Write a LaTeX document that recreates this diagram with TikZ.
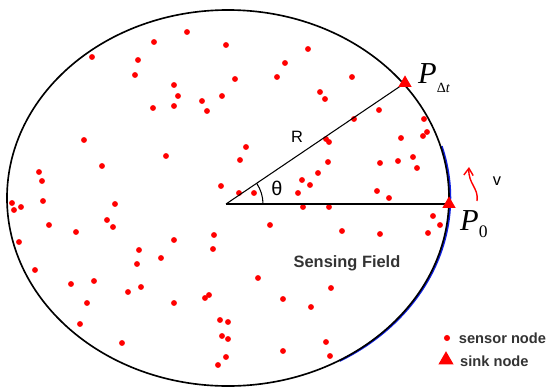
\documentclass[tikz,border=0pt]{standalone}
\usepackage{fontspec}
\setmainfont{Liberation Serif}
\setsansfont{Liberation Sans}
\usetikzlibrary{positioning, shapes.geometric, arrows.meta}
\definecolor{fieldblue}{HTML}{1020E0}
\definecolor{textgrey}{HTML}{333333}

\begin{document}
\begin{tikzpicture}[x=0.03cm, y=-0.03cm,
                field/.style={draw=black, line width=1.4pt},
                fieldedge/.style={draw=fieldblue, line width=1.8pt},
                edge/.style={draw=black, line width=0.9pt},
                sensor/.style={fill=red},
                sink/.style={regular polygon, regular polygon sides=3, fill=red, inner sep=0pt, minimum size=13pt},
                plabel/.style={font=\fontsize{26}{28}\selectfont\itshape, inner sep=0pt},
                varlabel/.style={font=\sffamily\fontsize{14}{16}\selectfont, inner sep=0pt},
                legendtext/.style={font=\sffamily\bfseries\fontsize{12.5}{14}\selectfont, text=textgrey, inner sep=0pt}
            ]
            \useasboundingbox (0,0) rectangle (559,390);

            % Feld
            \coordinate (C) at (228,198);
            \draw[fieldedge] ([xshift=1pt]C) ++(16:6.63cm and 5.64cm) arc[start angle=16, end angle=-60, x radius=6.63cm, y radius=5.64cm];
            \draw[field] (C) ellipse[x radius=6.63cm, y radius=5.64cm];

            % Sensorknoten
            \foreach \x/\y in {187/32, 154/42, 226/45, 92/57, 138/60, 135/75, 235/79, 277/77, 174/85, 178/96, 202/101, 222/96, 153/108, 174/106, 207/111, 84/140, 246/147, 166/156, 240/160, 102/166, 39/172, 42/181, 221/186, 254/193, 239/193,
                               308/49, 285/63, 352/77, 320/92, 325/99, 379/110, 354/119, 424/119, 427/132, 423/136, 401/138, 326/139, 329/142, 328/162, 380/163, 398/161, 413/157, 417/168, 318/173, 302/180, 310/185, 298/193, 377/191, 389/198,
                               303/207, 329/207, 433/216, 440/225, 428/233, 270/225, 342/231, 380/234, 331/288, 283/299, 311/307, 326/342, 283/351, 330/356,
                               12/203, 21/207, 14/210, 43/201, 115/204, 49/225, 107/220, 113/227, 76/232, 19/242, 174/240, 214/235, 139/250, 213/249, 161/258, 137/264, 35/270, 71/284, 94/281, 128/292, 141/287, 174/303, 205/298, 209/295, 258/278, 87/303, 80/324, 220/320, 228/322, 222/336, 228/339, 122/343, 226/357, 218/365}
                \fill[sensor] (\x,\y) circle[radius=2.5pt];

            % Radien und Winkel
            \coordinate (O) at (226,204);
            \coordinate (P0) at (449,204);
            \coordinate (Pdt) at (405,83);
            \draw[edge] (O) -- (P0);
            \draw[edge] (O) -- (Pdt);
            \node[varlabel] (R) at (297,137) {R};
            \draw[edge] (O) ++(0:1.11cm) arc[start angle=0, end angle=34, radius=1.11cm];
            \node[varlabel, font=\sffamily\fontsize{17}{18}\selectfont] (theta) at (277,188) {θ};

            % Senke
            \node[sink] (sinkdt) at (Pdt) {};
            \node[sink] (sink0) at (P0) {};
            \node[plabel, anchor=base west] (lPdt) at (418,83) {P\raisebox{-8pt}{\upshape\fontsize{12}{12}\selectfont Δ\itshape t}};
            \node[plabel, anchor=base west] (lP0) at (460,230) {P\raisebox{-6pt}{\upshape\fontsize{15}{15}\selectfont 0}};

            % Geschwindigkeit
            \coordinate (vs) at (477,201);
            \coordinate (ve) at (469,167);
            \draw[red, line width=1.2pt, -{Straight Barb[length=6pt, width=8pt]}] (vs) .. controls (479,188) and (468,184) .. (ve);
            \node[varlabel] (v) at (497,181) {v};

            \node[legendtext, font=\sffamily\bfseries\fontsize{14}{16}\selectfont] (field) at (347,263) {Sensing Field};

            % Legende
            \fill[sensor] (447,338) circle[radius=2.6pt] coordinate (ldot);
            \node[legendtext, right=10pt of ldot] (lsensor) {sensor node};
            \node[sink, minimum size=15pt] (lsink) at (446,360) {};
            \node[legendtext, anchor=west] (lsinktext) at (460,361) {sink node};

        \end{tikzpicture}
\end{document}
